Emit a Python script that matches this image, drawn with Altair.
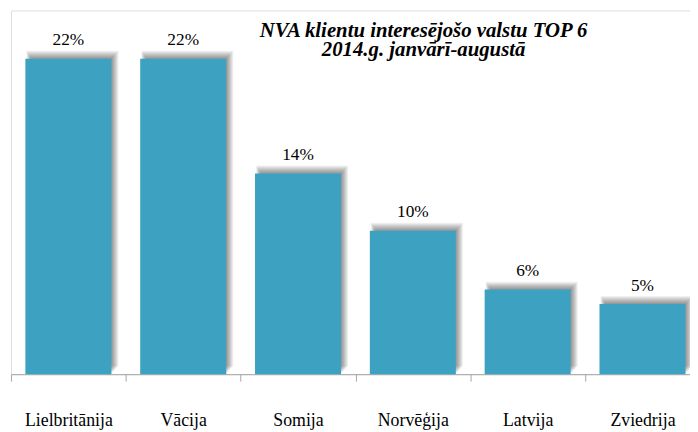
import altair as alt
import pandas as pd

countries = ["Lielbritānija", "Vācija", "Somija", "Norvēģija", "Latvija", "Zviedrija"]
values = [22.0, 22.0, 14.0, 10.0, 5.9, 4.9]
labels = ["22%", "22%", "14%", "10%", "6%", "5%"]

df = pd.DataFrame({"country": countries, "value": values, "label": labels})

FONT = "Liberation Serif"
BAR_W = 87

x_enc = alt.X(
    "country:N",
    sort=None,
    scale=alt.Scale(range=[0, 697], paddingInner=0, paddingOuter=0),
    axis=alt.Axis(
        title=None,
        labelAngle=0,
        labelFont=FONT,
        labelFontSize=18,
        labelColor="#000000",
        labelPadding=31,
        tickSize=7,
        tickBand="extent",
        tickColor="#A6A6A6",
        domainColor="#A6A6A6",
        grid=False,
    ),
)
y_enc = alt.Y("value:Q", scale=alt.Scale(domain=[0, 25.36]), axis=None)

base = alt.Chart(df).encode(x=x_enc, y=y_enc)

layers = []
for k in range(1, 9):
    left_inset = 6 - 0.6 * k
    right_ext = 0.9 * k
    w = BAR_W - left_inset + right_ext
    layers.append(
        base.mark_bar(
            width=w,
            xOffset=(left_inset + right_ext) / 2,
            yOffset=-1.0 * k,
            color="#000000",
            opacity=0.06,
        )
    )

bars = base.mark_bar(width=BAR_W, color="#3DA1C1")
text = base.mark_text(
    font=FONT, fontSize=17.5, dy=-13.5, baseline="alphabetic", color="#000000"
).encode(text="label:N")

chart = (
    alt.layer(*layers, bars, text)
    .properties(
        width=687,
        height=368,
        padding={"left": 3, "top": 0, "right": 0, "bottom": 56},
        autosize=alt.AutoSizeParams(type="none"),
        title=alt.Title(
            text=["NVA klientu interesējošo valstu TOP 6", "2014.g. janvārī-augustā"],
            anchor="middle",
            frame="group",
            dx=74,
            offset=-67.5,
            baseline="alphabetic",
            font=FONT,
            fontSize=21,
            fontStyle="italic",
            fontWeight="bold",
            lineHeight=20,
            color="#000000",
        ),
    )
    .configure_view(stroke=None)
    .configure(background="white")
)

chart.save("out.html", embed_options={"renderer": "svg", "actions": False})
